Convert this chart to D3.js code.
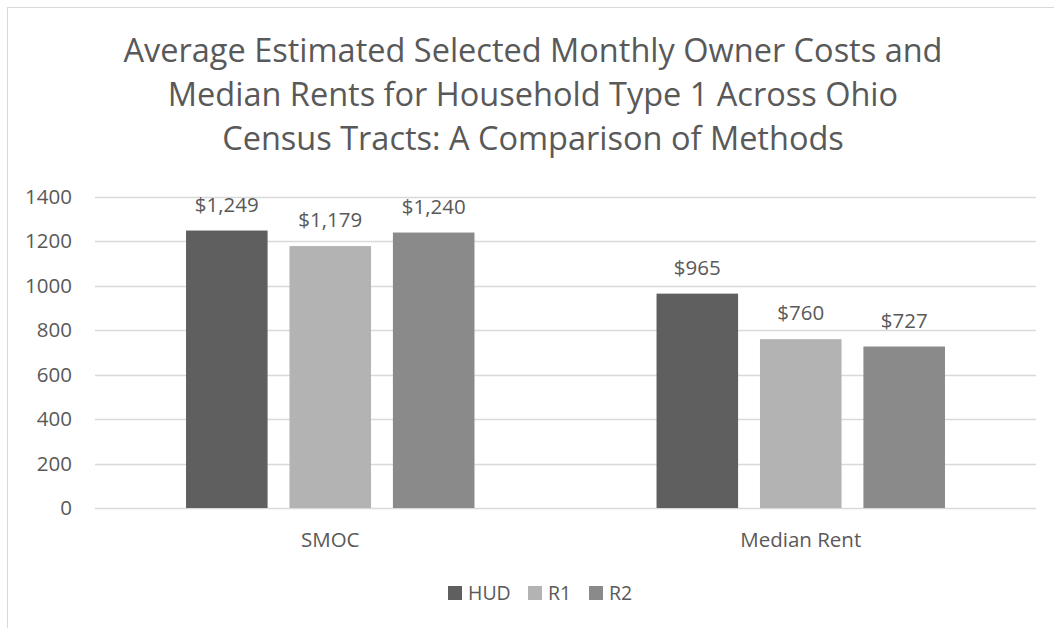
<!DOCTYPE html>
<html>
<head>
<meta charset="utf-8">
<script src="https://cdn.jsdelivr.net/npm/d3@7"></script>
<style>
  body { margin: 0; background: #fff; }
  text { font-family: "Open Sans", sans-serif; fill: #595959; }
</style>
</head>
<body>
<script>
const w = 1054;
const h = 628;

const titleLines = ["Average Estimated Selected Monthly Owner Costs and",
  "Median Rents for Household Type 1 Across Ohio",
  "Census Tracts: A Comparison of Methods"];
const categories = ["SMOC", "Median Rent"];
const seriesNames = ["HUD", "R1", "R2"];
const hudValues = [1249, 965];
const r1Values = [1179, 760];
const r2Values = [1240, 727];
const yTicks = [0, 200, 400, 600, 800, 1000, 1200, 1400];
const colors = ["#5f5f5f", "#b3b3b3", "#8a8a8a"];

const seriesValues = [hudValues, r1Values, r2Values];
const rows = [];
categories.forEach((c, ci) => {
  seriesNames.forEach((s, si) => {
    rows.push({ cat: c, series: s, value: seriesValues[si][ci] });
  });
});

const svg = d3.select("body")
  .append("svg")
  .attr("width", w)
  .attr("height", h);

// chart frame
svg.append("rect")
  .attr("x", 7.5).attr("y", 7.5)
  .attr("width", 1060).attr("height", 640)
  .attr("fill", "none")
  .attr("stroke", "#d9d9d9");

svg.append("g")
  .selectAll("text")
  .data(titleLines)
  .enter()
  .append("text")
  .attr("x", 533)
  .attr("y", (d, i) => 62 + i * 44)
  .attr("text-anchor", "middle")
  .style("font-size", "32.5px")
  .text(d => d);

const yScale = d3.scaleLinear()
  .domain([0, 1400])
  .range([508, 197]);

const x0 = d3.scaleBand()
  .domain(categories)
  .range([95, 1036]);

const x1 = d3.scaleBand()
  .domain(seriesNames)
  .range([0, x0.bandwidth()])
  .paddingInner(0.2115)
  .paddingOuter(0.88);

const color = d3.scaleOrdinal(seriesNames, colors);

// gridlines
svg.append("g")
  .selectAll("line")
  .data(yTicks)
  .enter()
  .append("line")
  .attr("x1", 95).attr("x2", 1036)
  .attr("y1", d => Math.round(yScale(d)) + 0.5)
  .attr("y2", d => Math.round(yScale(d)) + 0.5)
  .attr("stroke", "#d9d9d9")
  .attr("stroke-width", 1.3);

const yAxis = d3.axisLeft(yScale).tickValues(yTicks).tickFormat(d3.format("d")).tickSize(0).tickPadding(0);
const yG = svg.append("g")
  .attr("transform", "translate(72,0)")
  .call(yAxis);
yG.select(".domain").remove();
yG.selectAll("text")
  .style("font-size", "20.5px")
  .style("font-family", "'Open Sans', sans-serif")
  .attr("fill", "#595959");

// bars
svg.append("g")
  .selectAll("rect")
  .data(rows)
  .enter()
  .append("rect")
  .attr("x", d => x0(d.cat) + x1(d.series))
  .attr("y", d => yScale(d.value))
  .attr("width", x1.bandwidth())
  .attr("height", d => yScale(0) - yScale(d.value))
  .attr("fill", d => color(d.series));

// data labels
svg.append("g")
  .selectAll("text")
  .data(rows)
  .enter()
  .append("text")
  .attr("x", d => x0(d.cat) + x1(d.series) + x1.bandwidth() / 2)
  .attr("y", d => yScale(d.value) - 19)
  .attr("text-anchor", "middle")
  .style("font-size", "20.5px")
  .text(d => "$" + d3.format(",")(d.value));

// category labels
const xAxis = d3.axisBottom(x0).tickSize(0).tickPadding(0);
const xG = svg.append("g")
  .attr("transform", "translate(0,547)")
  .call(xAxis);
xG.select(".domain").remove();
xG.selectAll("text")
  .attr("y", 0)
  .attr("dy", 0)
  .style("font-size", "20.5px")
  .style("font-family", "'Open Sans', sans-serif")
  .attr("fill", "#595959");

// legend
const legendX = [448, 528, 589];
const legend = svg.append("g")
  .selectAll("g")
  .data(seriesNames)
  .enter()
  .append("g")
  .attr("transform", (d, i) => "translate(" + legendX[i] + ",586)");
legend.append("rect")
  .attr("width", 14).attr("height", 14)
  .attr("fill", d => color(d));
legend.append("text")
  .attr("x", 20)
  .attr("y", 14)
  .style("font-size", "19.5px")
  .text(d => d);
</script>
</body>
</html>
